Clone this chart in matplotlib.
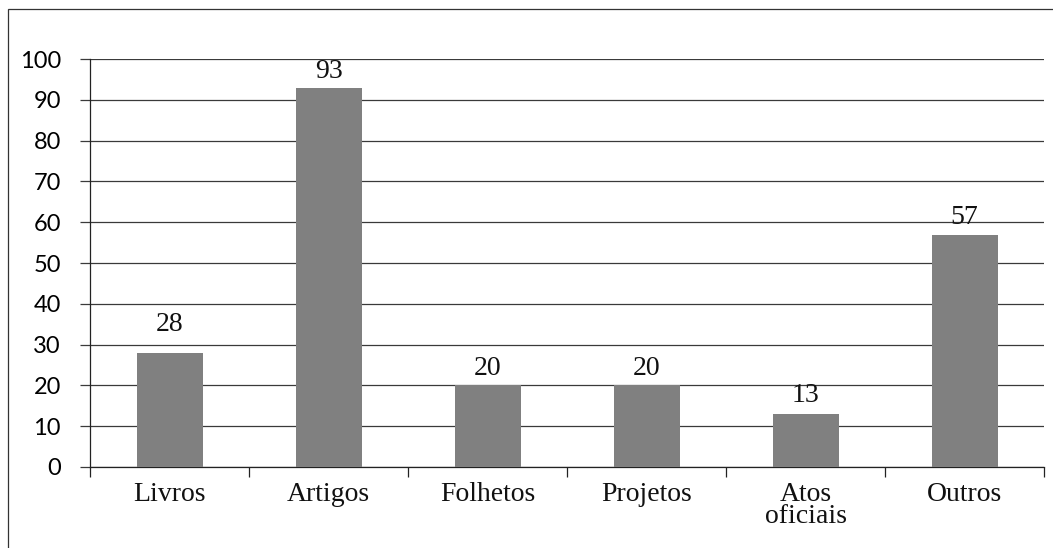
import matplotlib.pyplot as plt
from matplotlib.patches import Rectangle

# dados do grafico
categorias = ['Livros', 'Artigos', 'Folhetos', 'Projetos', 'Atos\noficiais', 'Outros']
valores = [28, 93, 20, 20, 13, 57]
rotulos = ['28', '93', '20', '20', '13', '57']
yticks = [0, 10, 20, 30, 40, 50, 60, 70, 80, 90, 100]

fig = plt.figure(figsize=(10.53, 5.48), dpi=100)
ax = fig.add_axes([0.0855, 0.148, 0.906, 0.744])

x = list(range(len(categorias)))
ax.bar(x, valores, width=0.415, color='#808080', zorder=3)

# rotulos de dados
desloc = [3.0, 0.0, 0.2, 0.2, 0.6, 0.2]
for xi, v, r, d in zip(x, valores, rotulos, desloc):
    ax.text(xi, v + d + 0.8, r, ha='center', va='bottom', fontsize=20,
            family='Liberation Serif', color='#111111')

ax.set_xlim(-0.5, len(categorias) - 0.5)
ax.set_ylim(0, 100)
ax.set_yticks(yticks)
ax.set_yticklabels([str(t) for t in yticks], family='Lato', fontsize=17)
ax.yaxis.grid(True, color='#3a3a3a', linewidth=0.9, zorder=0)
ax.tick_params(axis='y', length=7, width=0.9, pad=14, color='#3a3a3a')

# ticks nas divisoes das categorias
ax.set_xticks([i - 0.5 for i in range(len(categorias) + 1)])
ax.set_xticklabels([])
ax.tick_params(axis='x', length=7, width=0.9, color='#222222')
for xi, c in zip(x, categorias):
    ax.text(xi, -3.6, c, ha='center', va='top', fontsize=20,
            family='Liberation Serif', linespacing=0.85,
            transform=ax.transData, color='#111111')

for s in ['top', 'right']:
    ax.spines[s].set_visible(False)
for s in ['left', 'bottom']:
    ax.spines[s].set_color('#222222')
    ax.spines[s].set_linewidth(0.9)

# moldura externa
fig.patches.append(Rectangle((8 / 1053, -0.2), 2, 1.2 - 9 / 548,
                             transform=fig.transFigure, fill=False,
                             edgecolor='#333333', linewidth=0.9))

plt.savefig('out.png', dpi=100)
